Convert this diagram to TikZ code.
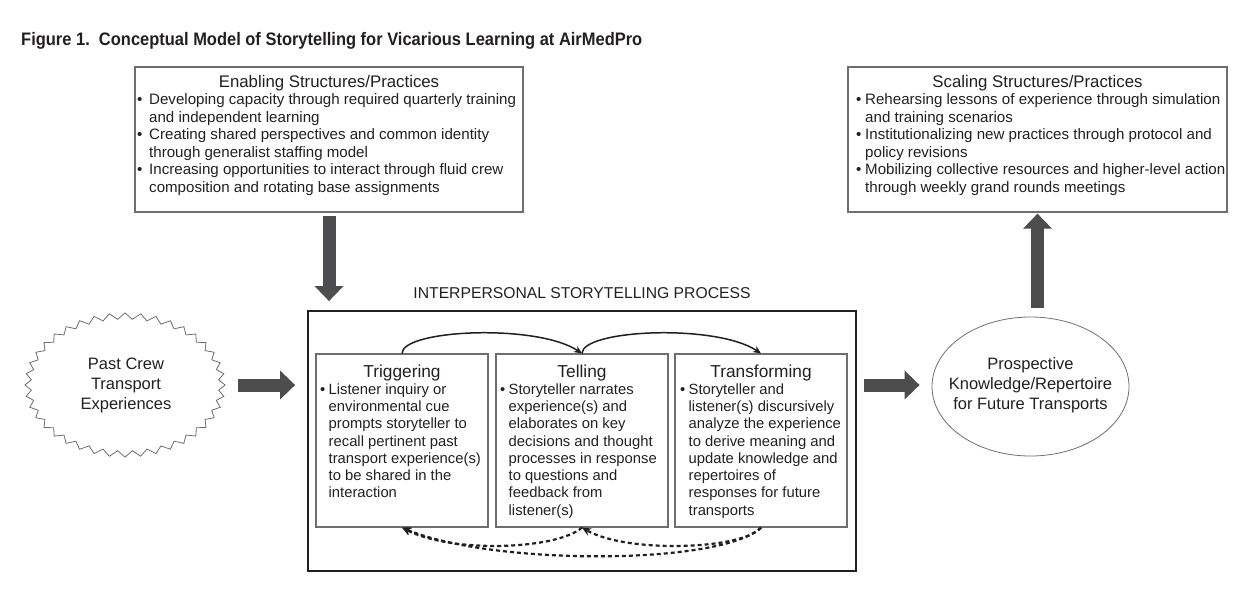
\documentclass[tikz,border=0pt]{standalone}
\usepackage{fontspec}
\setmainfont{Liberation Sans}
\newfontfamily\titlefont{Liberation Sans}[FakeStretch=0.91]
\usetikzlibrary{arrows.meta,shapes.geometric}
\definecolor{ink}{HTML}{231F20}
\definecolor{boxgray}{HTML}{6D6E71}
\definecolor{fatgray}{HTML}{4D4D4F}
% bullet mark and hanging indent for list lines
\newcommand\bul[1]{\makebox[#1][l]{\textbullet}}
\newcommand\ind[1]{\hspace*{#1}}
\begin{document}
\begin{tikzpicture}[x=1pt,y=-1pt,
  every node/.style={text=ink},
  sbox/.style={draw=boxgray,line width=1.2pt,inner sep=0pt},
  ibox/.style={draw=boxgray,line width=1.1pt,inner sep=0pt,minimum width=172pt,minimum height=173pt},
  htitle/.style={anchor=base,inner sep=0pt,font=\fontsize{16.8}{20}\selectfont},
  ititle/.style={anchor=base,inner sep=0pt,font=\fontsize{17.3}{20}\selectfont},
  olist/.style={anchor=north west,inner sep=0pt,align=left,font=\fontsize{15.1}{17.5}\selectfont},
  ilist/.style={anchor=north west,inner sep=0pt,align=left,font=\fontsize{14.8}{17.3}\selectfont},
  fat/.style={draw=fatgray,line width=13pt,-{Triangle[width=28pt,length=15pt]}},
  flow/.style={draw=ink,line width=1.5pt,-{Stealth[length=8pt,width=7pt]}},
  back/.style={draw=ink,line width=2.2pt,dash pattern=on 4pt off 3pt,-{Stealth[length=9pt,width=8pt]}},
  ovaltext/.style={align=center,inner sep=0pt,anchor=north,font=\fontsize{16.5}{20}\selectfont}
]
\useasboundingbox (0,0) rectangle (1234,590);

% heading
\node[anchor=base west,inner sep=0pt,font={\titlefont\bfseries\fontsize{18.1}{20}\selectfont}] (fig) at (21,45)
  {Figure 1.\ \ Conceptual Model of Storytelling for Vicarious Learning at AirMedPro};

% enabling structures
\node[sbox,minimum width=388pt,minimum height=145pt] (enab) at (329,139.5) {};
\node[htitle] (enabT) at (329,87.5) {Enabling Structures/Practices};
\node[olist] (enabL) at (137,93.5) {%
  \bul{12pt}Developing capacity through required quarterly training\\
  \ind{12pt}and independent learning\\
  \bul{12pt}Creating shared perspectives and common identity\\
  \ind{12pt}through generalist staffing model\\
  \bul{12pt}Increasing opportunities to interact through fluid crew\\
  \ind{12pt}composition and rotating base assignments};

% scaling structures
\node[sbox,minimum width=379pt,minimum height=145pt] (scal) at (1037.5,139.5) {};
\node[htitle] (scalT) at (1037.5,87.5) {Scaling Structures/Practices};
\node[olist] (scalL) at (856,93.5) {%
  \bul{9pt}Rehearsing lessons of experience through simulation\\
  \ind{9pt}and training scenarios\\
  \bul{9pt}Institutionalizing new practices through protocol and\\
  \ind{9pt}policy revisions\\
  \bul{9pt}Mobilizing collective resources and higher-level action\\
  \ind{9pt}through weekly grand rounds meetings};

% past experiences (zigzag outline)
\node[ellipse,minimum width=196pt,minimum height=140pt,inner sep=0pt] (past) at (125,385) {};
\draw[boxgray,line width=0.8pt] plot[domain=0:360,samples=81,variable=\t]
  ({125+97*(1+0.032*cos(40*\t))*cos(\t)},{385+69*(1+0.045*cos(40*\t))*sin(\t)}) -- cycle;
\node[ovaltext] (pastT) at (126,358.2) {Past Crew\\Transport\\Experiences};

% storytelling process
\node[draw=ink,line width=1.8pt,minimum width=548pt,minimum height=260pt,inner sep=0pt] (proc) at (582,441) {};
\node[anchor=base,inner sep=0pt,font=\fontsize{15.7}{18}\selectfont] (procT) at (582,298) {INTERPERSONAL STORYTELLING PROCESS};

\node[ibox] (trig) at (402,440.5) {};
\node[ibox] (tell) at (582,440.5) {};
\node[ibox] (trans) at (761,440.5) {};
\node[ititle] (trigT) at (402,377) {Triggering};
\node[ititle] (tellT) at (582,377) {Telling};
\node[ititle] (transT) at (761,377) {Transforming};

\node[ilist] (trigL) at (320,383.2) {%
  \bul{8.5pt}Listener inquiry or\\
  \ind{8.5pt}environmental cue\\
  \ind{8.5pt}prompts storyteller to\\
  \ind{8.5pt}recall pertinent past\\
  \ind{8.5pt}transport experience(s)\\
  \ind{8.5pt}to be shared in the\\
  \ind{8.5pt}interaction};
\node[ilist] (tellL) at (500,383.2) {%
  \bul{8.5pt}Storyteller narrates\\
  \ind{8.5pt}experience(s) and\\
  \ind{8.5pt}elaborates on key\\
  \ind{8.5pt}decisions and thought\\
  \ind{8.5pt}processes in response\\
  \ind{8.5pt}to questions and\\
  \ind{8.5pt}feedback from\\
  \ind{8.5pt}listener(s)};
\node[ilist] (transL) at (680,383.2) {%
  \bul{8.5pt}Storyteller and\\
  \ind{8.5pt}listener(s) discursively\\
  \ind{8.5pt}analyze the experience\\
  \ind{8.5pt}to derive meaning and\\
  \ind{8.5pt}update knowledge and\\
  \ind{8.5pt}repertoires of\\
  \ind{8.5pt}responses for future\\
  \ind{8.5pt}transports};

% forward flow between stages
\draw[flow] (trig.north) .. controls +(0,-24) and +(-45,-30) .. (tell.north);
\draw[flow] (tell.north) .. controls +(0,-24) and +(-45,-30) .. (trans.north);

% feedback loops
\draw[back] (tell.south) .. controls +(-25,22) and +(50,26) .. (trig.south);
\draw[back] (trans.south) .. controls +(-18,22) and +(45,26) .. (tell.south);
\draw[back] (trans.south) .. controls +(-40,38) and +(90,38) .. (trig.south);

% prospective knowledge
\node[ellipse,draw=boxgray,line width=0.8pt,minimum width=197pt,minimum height=139pt,inner sep=0pt] (pros) at (1030.5,386.5) {};
\node[ovaltext] (prosT) at (1030.5,357.2) {Prospective\\Knowledge/Repertoire\\for Future Transports};

% block arrows
\draw[fat,shorten <=3pt,shorten >=9pt] (enab.south) -- (enab.south |- proc.north);
\draw[fat,shorten <=15pt,shorten >=12pt] (past.east) -- (past.east -| proc.west);
\draw[fat,shorten <=7pt,shorten >=12pt] (past.east -| proc.east) -- (past.east -| pros.west);
\draw[fat,shorten <=9pt,shorten >=1pt] (pros.north -| scal.south) -- (scal.south);
\end{tikzpicture}
\end{document}
